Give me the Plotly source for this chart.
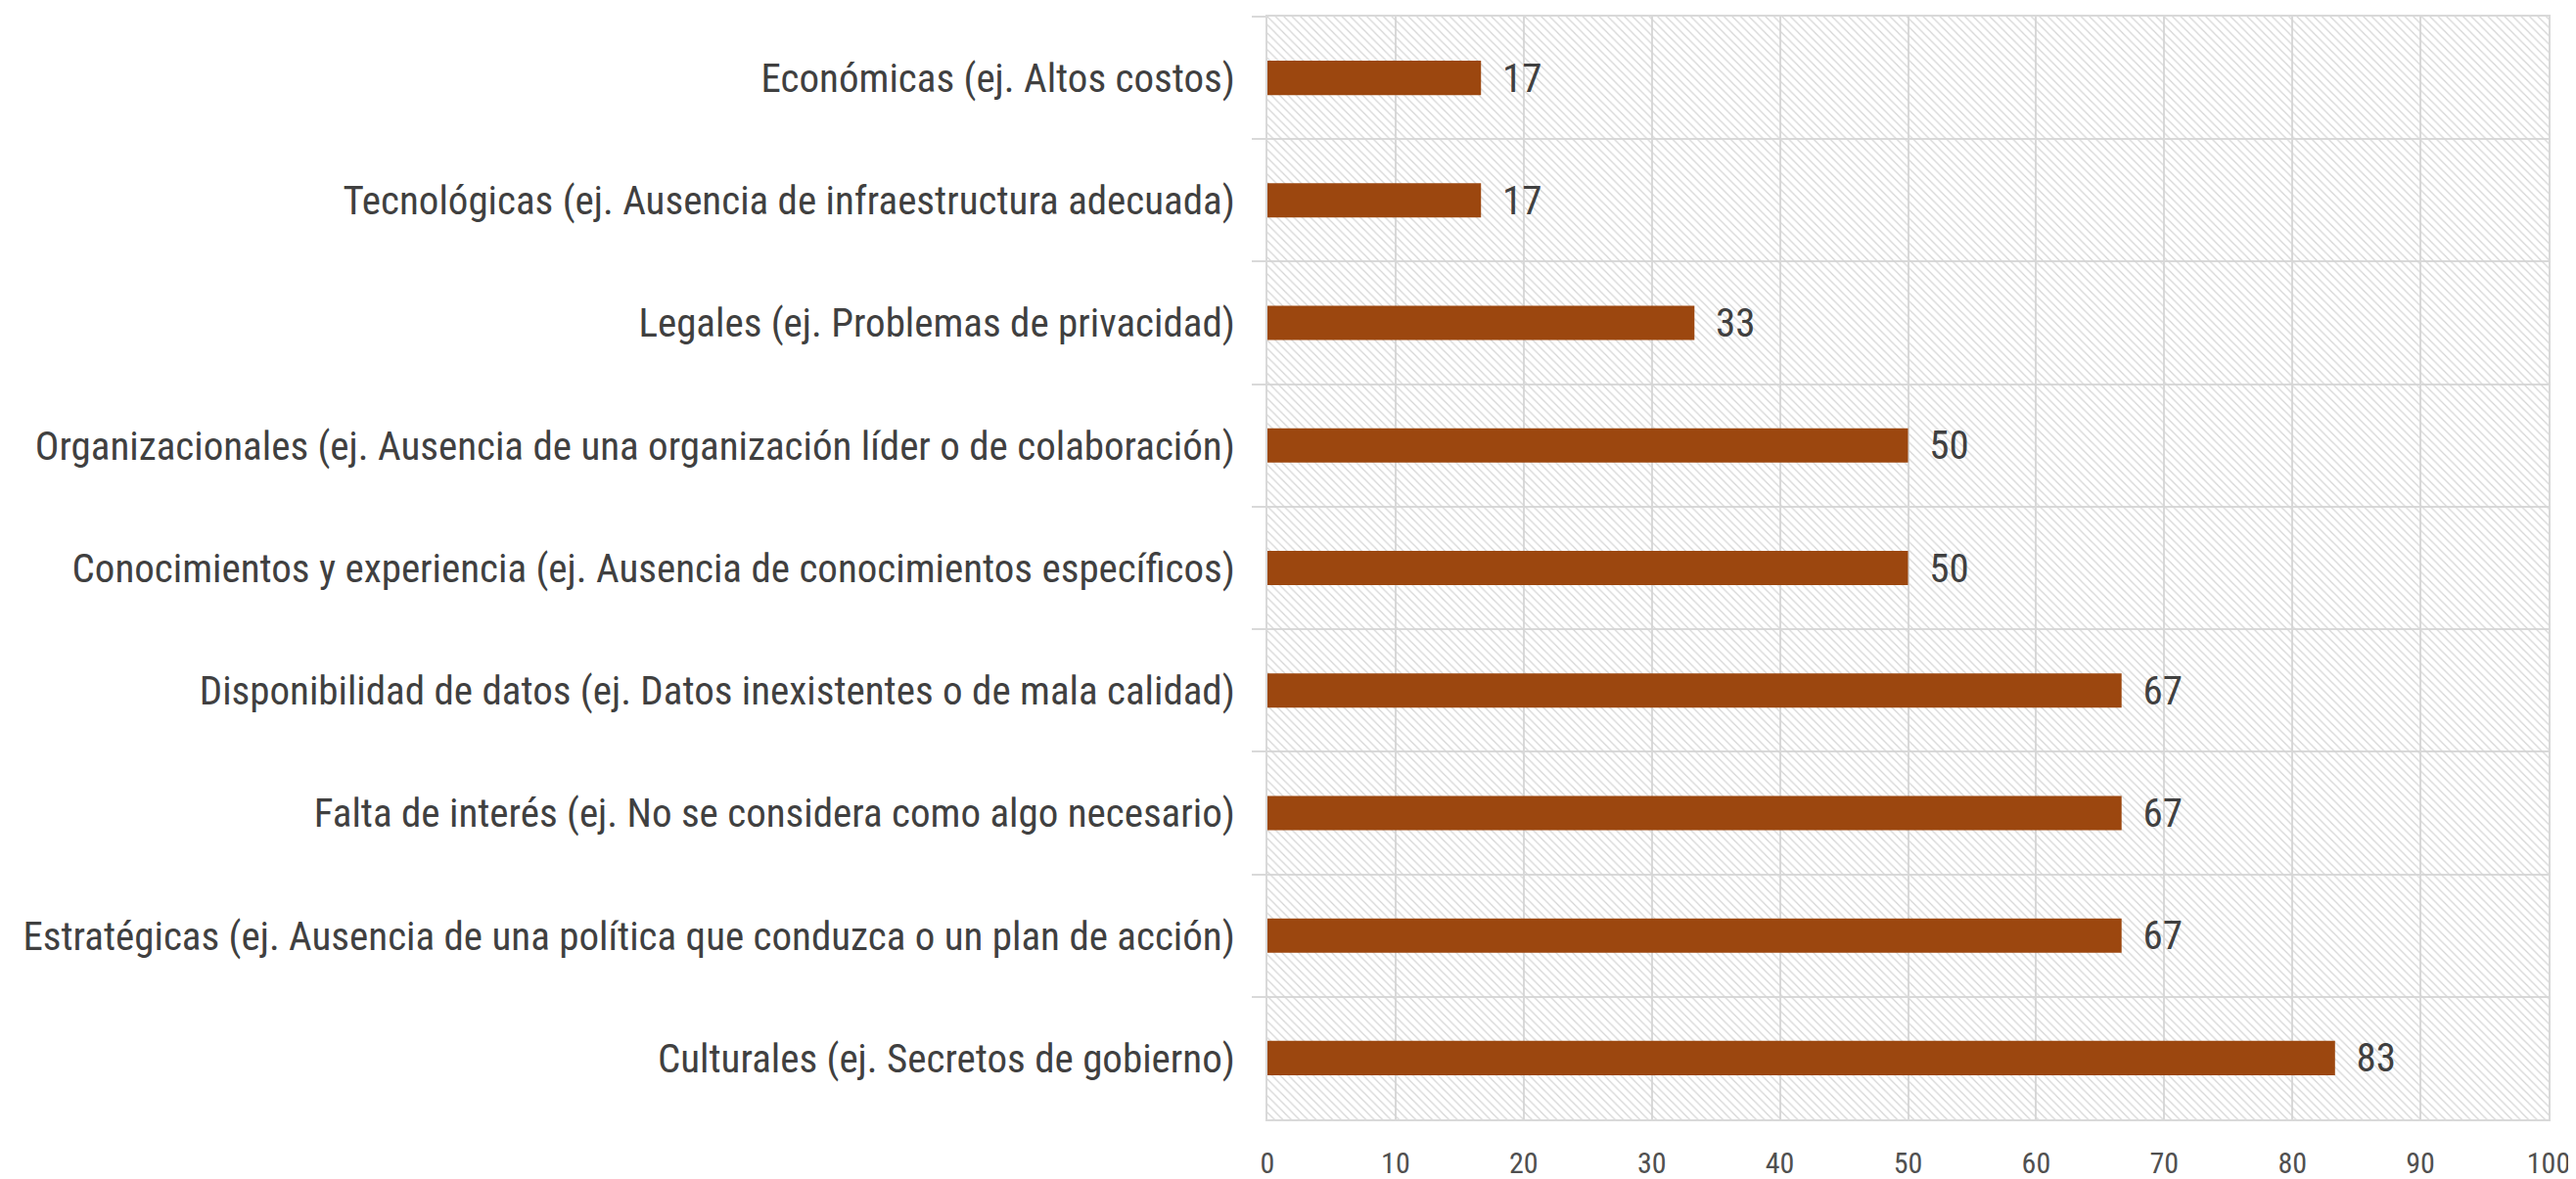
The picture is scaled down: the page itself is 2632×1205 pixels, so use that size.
import plotly.graph_objects as go

categories = [
    "Económicas (ej. Altos costos)",
    "Tecnológicas (ej. Ausencia de infraestructura adecuada)",
    "Legales (ej. Problemas de privacidad)",
    "Organizacionales (ej. Ausencia de una organización líder o de colaboración)",
    "Conocimientos y experiencia (ej. Ausencia de conocimientos específicos)",
    "Disponibilidad de datos (ej. Datos inexistentes o de mala calidad)",
    "Falta de interés (ej. No se considera como algo necesario)",
    "Estratégicas (ej. Ausencia de una política que conduzca o un plan de acción)",
    "Culturales (ej. Secretos de gobierno)",
]
values = [16.67, 16.67, 33.33, 50.0, 50.0, 66.67, 66.67, 66.67, 83.33]
x_ticks = [0, 10, 20, 30, 40, 50, 60, 70, 80, 90, 100]
axis_max = 100

FONT = "Liberation Sans Narrow, Arial Narrow, Roboto Condensed, Roboto, sans-serif"
TXT = "#404040"
GRID = "#d9d9d9"
BAR = "#9C470F"

fig = go.Figure()

# hatched plot-area background (one bar spanning all categories)
fig.add_trace(go.Bar(
    y=[categories[len(categories) // 2]],
    x=[axis_max],
    width=[len(categories)],
    orientation="h",
    marker=dict(
        color="rgba(0,0,0,0)",
        line=dict(width=0),
        pattern=dict(shape="\\", size=6, solidity=0.2,
                     fgcolor="#d4d4d4", bgcolor="rgba(255,255,255,0)",
                     fillmode="replace"),
    ),
    hoverinfo="skip",
    showlegend=False,
))

fig.add_trace(go.Bar(
    y=categories,
    x=values,
    orientation="h",
    width=0.28,
    marker=dict(color=BAR, line=dict(width=0)),
    text=values,
    texttemplate="\u00a0\u00a0%{x:.0f}",
    textposition="outside",
    constraintext="none",
    textfont=dict(family=FONT, size=41, color=TXT),
    outsidetextfont=dict(family=FONT, size=41, color=TXT),
    cliponaxis=False,
    showlegend=False,
))

# the page body adds an 8 px offset, so the figure is sized/margined to compensate
fig.update_layout(
    width=2624,
    height=1197,
    barmode="overlay",
    paper_bgcolor="white",
    plot_bgcolor="white",
    margin=dict(l=1287, r=28, t=9, b=61),
    font=dict(family=FONT, color=TXT),
    showlegend=False,
)

fig.update_xaxes(
    range=[0, axis_max],
    tickvals=x_ticks,
    showgrid=True,
    gridcolor=GRID,
    gridwidth=2,
    zeroline=False,
    showline=True,
    linecolor=GRID,
    linewidth=2,
    mirror=True,
    ticks="",
    ticklabelstandoff=17,
    tickfont=dict(family=FONT, size=30, color="#505050"),
    automargin=False,
)

fig.update_yaxes(
    type="category",
    categoryorder="array",
    categoryarray=categories,
    autorange="reversed",
    tickson="boundaries",
    showgrid=True,
    gridcolor=GRID,
    gridwidth=2,
    ticks="outside",
    ticklen=14,
    tickwidth=2,
    tickcolor=GRID,
    showline=True,
    linecolor=GRID,
    linewidth=2,
    mirror=True,
    ticklabelstandoff=23,
    tickfont=dict(family=FONT, size=41, color=TXT),
    automargin=False,
)

fig.write_html("out.html")
